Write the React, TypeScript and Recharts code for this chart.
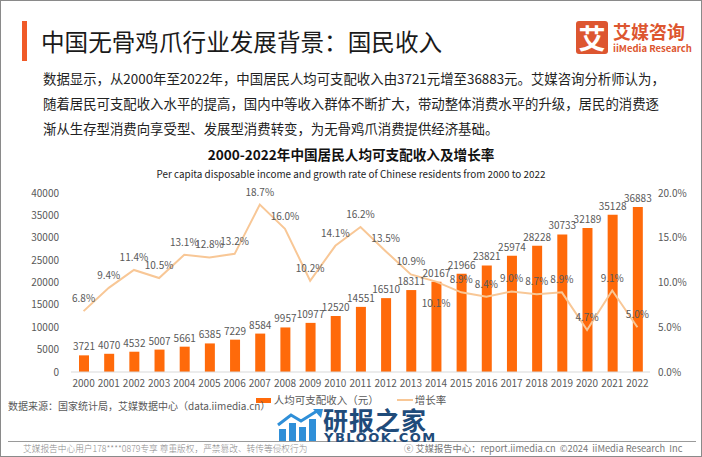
import React from "react";
import {
  ComposedChart,
  Bar,
  Line,
  XAxis,
  YAxis,
  LabelList,
} from "recharts";

const years = [
  "2000", "2001", "2002", "2003", "2004", "2005", "2006", "2007", "2008", "2009", "2010", "2011",
  "2012", "2013", "2014", "2015", "2016", "2017", "2018", "2019", "2020", "2021", "2022",
];
const income = [
  3721, 4070, 4532, 5007, 5661, 6385, 7229, 8584, 9957, 10977, 12520, 14551,
  16510, 18311, 20167, 21966, 23821, 25974, 28228, 30733, 32189, 35128, 36883,
];
const growth = [
  6.8, 9.4, 11.4, 10.5, 13.1, 12.8, 13.2, 18.7, 16.0, 10.2, 14.1, 16.2,
  13.5, 10.9, 10.1, 8.9, 8.4, 9.0, 8.7, 8.9, 4.7, 9.1, 5.0,
];
const leftTicks = [0, 5000, 10000, 15000, 20000, 25000, 30000, 35000, 40000];
const rightTicks = [0, 5, 10, 15, 20];

const data = years.map((y, i) => ({ year: y, income: income[i], growth: growth[i] }));

const FONT = '"Noto Sans CJK SC", "Noto Sans", sans-serif';
const GRAY = "#595959";
const BAR = "#FF6A0A";
const LINE = "#F8C796";
const LOGO = "#DD5630";

const GrowthLabel = (props: any) => {
  const { x, y, value, index } = props;
  // the 2014 label sits under the line in the original
  const dy = index === 14 ? 25 : -9;
  return (
    <text x={x} y={y + dy} textAnchor="middle" fill={GRAY} fontSize={10} fontFamily={FONT}>
      {Number(value).toFixed(1)}%
    </text>
  );
};

export default function App() {
  return (
    <div
      style={{
        position: "absolute",
        left: 0,
        top: 0,
        width: 702,
        height: 457,
        boxSizing: "border-box",
        border: "1.5px solid #8a8a8a",
        background: "#fff",
        fontFamily: FONT,
        overflow: "hidden",
      }}
    >
      {/* header */}
      <div style={{ position: "absolute", left: 21, top: 20, width: 5, height: 40, background: "#F05A28" }} />
      <div style={{ position: "absolute", left: 40, top: 24, fontSize: 23.6, color: "#1a1a1a", lineHeight: "32px" }}>
        中国无骨鸡爪行业发展背景：国民收入
      </div>
      <div
        style={{
          position: "absolute",
          left: 575,
          top: 20,
          width: 32,
          height: 33,
          background: LOGO,
          borderRadius: 3,
          color: "#fff",
          fontSize: 27,
          fontWeight: 700,
          lineHeight: "33px",
          textAlign: "center",
        }}
      >
        艾
      </div>
      <div style={{ position: "absolute", left: 612, top: 18, fontSize: 18, fontWeight: 700, color: LOGO, lineHeight: "24px" }}>
        艾媒咨询
      </div>
      <div style={{ position: "absolute", left: 612, top: 41, fontSize: 9.5, color: LOGO, lineHeight: "12px", fontWeight: 600 }}>
        iiMedia Research
      </div>
      <div
        style={{
          position: "absolute",
          left: 42,
          top: 65,
          width: 650,
          fontSize: 13.4,
          lineHeight: "25px",
          color: "#222",
        }}
      >
        数据显示，从2000年至2022年，中国居民人均可支配收入由3721元增至36883元。艾媒咨询分析师认为，
        <br />
        随着居民可支配收入水平的提高，国内中等收入群体不断扩大，带动整体消费水平的升级，居民的消费逐
        <br />
        渐从生存型消费向享受型、发展型消费转变，为无骨鸡爪消费提供经济基础。
      </div>

      {/* chart titles */}
      <div style={{ position: "absolute", left: 0, width: 700, top: 143, textAlign: "center", fontSize: 13.6, fontWeight: 700, color: "#111", lineHeight: "20px" }}>
        2000-2022年中国居民人均可支配收入及增长率
      </div>
      <div style={{ position: "absolute", left: 0, width: 700, top: 165, textAlign: "center", fontSize: 9.9, color: "#222", lineHeight: "16px" }}>
        Per capita disposable income and growth rate of Chinese residents from 2000 to 2022
      </div>

      <div style={{ position: "absolute", left: 0, top: 0 }}>
        <ComposedChart
          width={702}
          height={401}
          data={data}
          margin={{ top: 192, right: 0, left: 0, bottom: 0 }}
        >
          <XAxis
            dataKey="year"
            height={30}
            tickLine={false}
            axisLine={{ stroke: "#d9d9d9" }}
            tick={{ fill: GRAY, fontSize: 10, fontFamily: FONT }}
            interval={0}
          />
          <YAxis
            yAxisId="left"
            width={70}
            domain={[0, 40000]}
            ticks={leftTicks}
            axisLine={false}
            tickLine={false}
            tick={{ fill: GRAY, fontSize: 10, fontFamily: FONT, dx: -4 }}
          />
          <YAxis
            yAxisId="right"
            orientation="right"
            width={53}
            domain={[0, 20]}
            ticks={rightTicks}
            axisLine={false}
            tickLine={false}
            tickFormatter={(v: number) => `${v.toFixed(1)}%`}
            tick={{ fill: GRAY, fontSize: 10, fontFamily: FONT }}
          />
          <Bar yAxisId="left" dataKey="income" fill={BAR} barSize={10} isAnimationActive={false}>
            <LabelList dataKey="income" position="top" fill={GRAY} fontSize={10} fontFamily={FONT} />
          </Bar>
          <Line
            yAxisId="right"
            dataKey="growth"
            stroke={LINE}
            strokeWidth={2}
            dot={false}
            type="linear"
            isAnimationActive={false}
          >
            <LabelList dataKey="growth" content={GrowthLabel} />
          </Line>
        </ComposedChart>
      </div>

      {/* legend */}
      <div style={{ position: "absolute", left: 0, width: 700, top: 391, display: "flex", justifyContent: "center", alignItems: "center", fontSize: 10.5, color: GRAY, lineHeight: "16px" }}>
        <span style={{ display: "inline-block", width: 15, height: 5, background: BAR, marginRight: 3 }} />
        <span>人均可支配收入（元）</span>
        <span style={{ display: "inline-block", width: 16, height: 1.5, background: LINE, marginLeft: 18, marginRight: 2 }} />
        <span>增长率</span>
      </div>

      {/* footer */}
      <div style={{ position: "absolute", left: 7, top: 397, fontSize: 10, color: GRAY, lineHeight: "16px" }}>
        数据来源：国家统计局，艾媒数据中心（data.iimedia.cn）
      </div>
      <div style={{ position: "absolute", left: 7, top: 440, width: 688, height: 1, background: "#9a9a9a" }} />
      <div style={{ position: "absolute", left: 22, top: 441, fontSize: 8.7, color: "#8a8a8a", lineHeight: "13px", fontFamily: '"Noto Sans CJK SC", serif', fontWeight: 300 }}>
        艾媒报告中心用户178****0879专享 尊重版权，严禁篡改、转传等侵权行为
      </div>
      <div style={{ position: "absolute", left: 403, top: 440, fontSize: 9.3, color: "#777", lineHeight: "14px", whiteSpace: "nowrap" }}>
        ⓔ 艾媒报告中心：report.iimedia.cn&nbsp;&nbsp;©2024&nbsp;&nbsp;iiMedia Research&nbsp;&nbsp;Inc
      </div>

      {/* watermark */}
      <svg style={{ position: "absolute", left: 276, top: 408 }} width={48} height={32}>
        <rect x={2} y={20} width={7} height={12} fill="#2f8fd8" />
        <rect x={12} y={14} width={7} height={18} fill="#2f8fd8" />
        <rect x={22} y={18} width={7} height={14} fill="#2f8fd8" />
        <rect x={32} y={10} width={7} height={22} fill="#2f8fd8" />
        <polyline points="1,16 14,6 24,12 40,2" fill="none" stroke="#2f8fd8" strokeWidth={3} />
        <polygon points="36,0 46,0 44,9" fill="#2f8fd8" />
      </svg>
      <div style={{ position: "absolute", left: 322, top: 404, fontSize: 25, fontWeight: 700, color: "#1f4b7a", lineHeight: "28px", letterSpacing: 1 }}>
        研报之家
      </div>
      <div style={{ position: "absolute", left: 323, top: 429, fontSize: 13, fontWeight: 700, color: "#1f4b7a", lineHeight: "15px", letterSpacing: 1.5, fontFamily: '"DejaVu Sans", sans-serif' }}>
        YBLOOK.COM
      </div>
    </div>
  );
}
